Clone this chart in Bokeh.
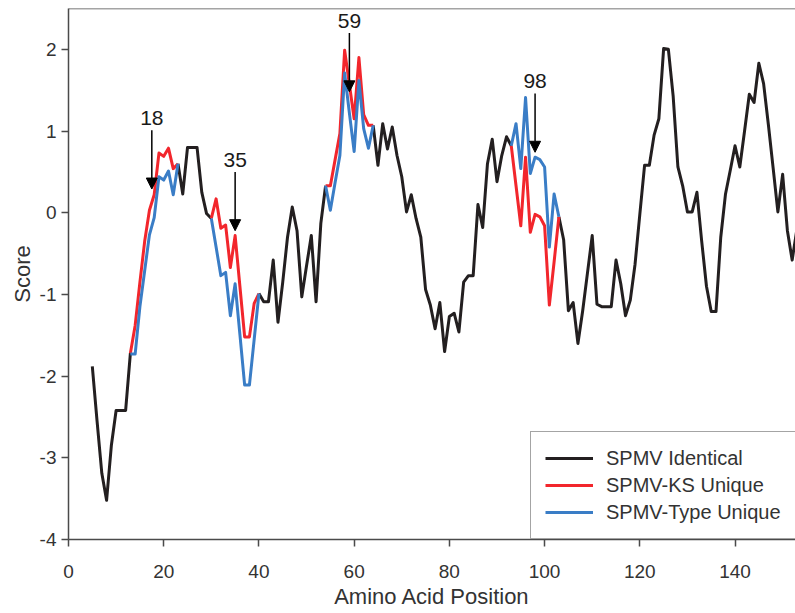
from bokeh.plotting import figure
from bokeh.models import (ColumnDataSource, Range1d, FixedTicker, Legend, LegendItem,
                          Arrow, NormalHead, Span)
from bokeh.core.properties import value
from bokeh.embed import file_html
from bokeh.resources import INLINE

# ---------------- data ----------------
identical_pos = list(range(5, 154))
identical_score = [
    -1.88, -2.55, -3.19, -3.52, -2.85, -2.42, -2.42, -2.42, -1.72,          # 5-13
    None, None, None, None, None, None, None, None, None,                  # 14-22
    0.60, 0.23, 0.80, 0.80, 0.80, 0.25, -0.01, -0.07,                      # 23-30
    None, None, None, None, None, None, None, None, None,                  # 31-39
    -0.99, -1.09, -1.09, -0.58, -1.34, -0.85, -0.30, 0.07, -0.22, -1.03,   # 40-49
    -0.65, -0.28, -1.09, -0.13, 0.33,                                      # 50-54
    None, None, None, None, None, None, None, None, None,                  # 55-63
    1.07, 0.58, 1.09, 0.78, 1.05, 0.70, 0.44, 0.01, 0.22, -0.07,           # 64-73
    -0.30, -0.94, -1.13, -1.42, -1.10, -1.70, -1.27, -1.23, -1.46, -0.85,  # 74-83
    -0.77, -0.77, 0.10, -0.18, 0.60, 0.90, 0.38, 0.70, 0.93, 0.82,         # 84-93
    None, None, None, None, None, None, None, None, None,                  # 94-102
    -0.05, -0.33, -1.20, -1.10, -1.60, -1.20, -0.74, -0.28, -1.12, -1.15,  # 103-112
    -1.15, -1.15, -0.58, -0.87, -1.26, -1.07, -0.63, -0.02, 0.58, 0.58,    # 113-122
    0.95, 1.15, 2.01, 2.00, 1.43, 0.56, 0.33, 0.01, 0.01, 0.25,            # 123-132
    -0.35, -0.90, -1.21, -1.21, -0.30, 0.23, 0.52, 0.82, 0.56, 1.00,       # 133-142
    1.45, 1.35, 1.83, 1.58, 1.08, 0.55, 0.01, 0.47, -0.22, -0.58,          # 143-152
    -0.20,                                                                 # 153
]

unique_starts = [13, 30, 54, 93]
ks_unique = [
    [-1.72, -1.38, -0.85, -0.35, 0.03, 0.22, 0.73, 0.69, 0.79, 0.54, 0.60],
    [-0.07, 0.17, -0.19, -0.15, -0.67, -0.28, -0.90, -1.52, -1.52, -1.11, -0.99],
    [0.33, 0.33, 0.65, 0.97, 1.99, 1.57, 1.15, 1.90, 1.20, 1.07, 1.07],
    [0.82, 0.33, -0.16, 0.68, -0.24, -0.02, -0.05, -0.16, -1.13, -0.60, -0.05],
]
type_unique = [
    [-1.73, -1.73, -1.15, -0.71, -0.27, -0.06, 0.44, 0.40, 0.51, 0.22, 0.60],
    [-0.07, -0.42, -0.77, -0.73, -1.26, -0.87, -1.49, -2.11, -2.11, -1.55, -0.99],
    [0.33, 0.03, 0.37, 0.70, 1.71, 1.22, 0.75, 1.62, 1.03, 0.79, 1.07],
    [0.82, 1.09, 0.54, 1.41, 0.48, 0.68, 0.65, 0.56, -0.42, 0.23, -0.05],
]

marker_pos = [17.5, 35, 59, 98]
marker_tip = [0.29, -0.22, 1.48, 0.74]
marker_text = ["18", "35", "59", "98"]

x_ticks = [0, 20, 40, 60, 80, 100, 120, 140]
y_ticks = [-4, -3, -2, -1, 0, 1, 2]

# ---------------- build sources ----------------
nan = float("nan")


def segs(starts, vals):
    xs, ys = [], []
    for s, v in zip(starts, vals):
        xs += list(range(s, s + len(v))) + [nan]
        ys += list(v) + [nan]
    return xs, ys


ident_y = [nan if v is None else v for v in identical_score]
ks_x, ks_y = segs(unique_starts, ks_unique)
ty_x, ty_y = segs(unique_starts, type_unique)

FONT = "Liberation Sans"
BLACK = "#231f20"
RED = "#f2262c"
BLUE = "#3a7dc6"
AX = "#4a4a4a"

p = figure(width=795, height=613, x_range=Range1d(0, 152.7), y_range=Range1d(-4, 2.5),
           output_backend="svg", toolbar_location=None,
           min_border_left=68, min_border_right=0, min_border_top=8, min_border_bottom=74)
p.outline_line_color = None
p.grid.visible = False

r_black = p.line(identical_pos, ident_y, line_color=BLACK, line_width=3, line_join="round")
r_red = p.line(ks_x, ks_y, line_color=RED, line_width=3, line_join="round")
r_blue = p.line(ty_x, ty_y, line_color=BLUE, line_width=3, line_join="round")

# top border
p.add_layout(Span(location=2.5, dimension="width", line_color=AX, line_width=1.5))

# arrows and labels
ARROW_LEN = 0.72
arr_src = ColumnDataSource(dict(
    x=marker_pos,
    y0=[t + ARROW_LEN for t in marker_tip],
    y1=marker_tip,
    txt=marker_text,
))
p.add_layout(Arrow(end=NormalHead(size=11, fill_color="black", line_color="black", line_width=1),
                   x_start="x", y_start="y0", x_end="x", y_end="y1",
                   line_color="black", line_width=1.5, source=arr_src))
p.text(x="x", y="y0", text="txt", source=arr_src, text_align="center",
       text_baseline="bottom", y_offset=-5,
       text_font=value(FONT), text_font_size="21px", text_color="#1a1a1a")

# axes
p.xaxis.ticker = FixedTicker(ticks=x_ticks)
p.yaxis.ticker = FixedTicker(ticks=y_ticks)
p.yaxis.major_label_overrides = {t: str(t) for t in y_ticks}
for ax in (p.xaxis[0], p.yaxis[0]):
    ax.axis_line_color = AX
    ax.axis_line_width = 1.5
    ax.major_tick_line_color = AX
    ax.major_tick_line_width = 1.5
    ax.major_tick_out = 7
    ax.major_tick_in = 0
    ax.minor_tick_line_color = None
    ax.major_label_text_font = FONT
    ax.major_label_text_font_size = "19px"
    ax.major_label_text_color = "#333333"
    ax.axis_label_text_font = FONT
    ax.axis_label_text_font_size = "22px"
    ax.axis_label_text_font_style = "normal"
    ax.axis_label_text_color = "#333333"

p.xaxis.axis_label = "Amino Acid Position"
p.yaxis.axis_label = "Score"
p.xaxis.major_label_standoff = 18
p.xaxis.axis_label_standoff = 3
p.yaxis.major_label_standoff = 5
p.yaxis.axis_label_standoff = 2

legend = Legend(items=[
    LegendItem(label="SPMV Identical", renderers=[r_black]),
    LegendItem(label="SPMV-KS Unique", renderers=[r_red]),
    LegendItem(label="SPMV-Type Unique", renderers=[r_blue]),
], location=(462, 0))
legend.glyph_width = 48
legend.glyph_height = 24
legend.label_height = 24
legend.label_standoff = 13
legend.padding = 14
legend.spacing = 3
legend.margin = 0
legend.border_line_color = AX
legend.border_line_width = 1.2
legend.label_text_font = FONT
legend.label_text_font_size = "20px"
legend.label_text_color = "#333333"
legend.background_fill_alpha = 1
p.add_layout(legend)

open("out.html", "w").write(file_html(p, INLINE))
